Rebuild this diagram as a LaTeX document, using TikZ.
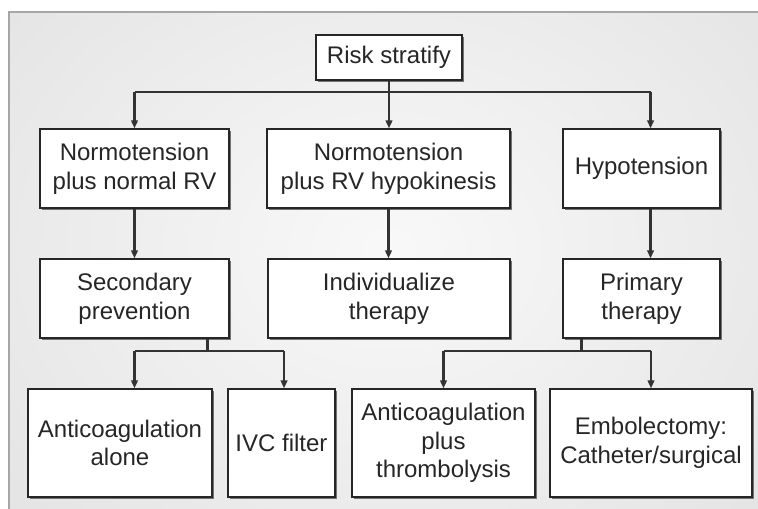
\documentclass[tikz,border=0pt]{standalone}
\usepackage{fontspec}
\setmainfont{Liberation Sans}
\usetikzlibrary{arrows.meta,shadows}
\begin{document}
\begin{tikzpicture}[x=0.75pt,y=-0.75pt,line join=miter,
	>={Triangle[length=6pt,width=5pt]},
	box/.style={draw=black!85,line width=1pt,fill=white,align=center,inner sep=0pt,
		text=black!85,font=\fontsize{18}{21.5}\selectfont,
		drop shadow={shadow xshift=1.4pt,shadow yshift=-1.4pt,fill=black!55,opacity=1}},
	boxsize/.style 2 args={minimum width=#1*0.75pt,minimum height=#2*0.75pt},
	link/.style={draw=black!80,line width=1.8pt}]
	\useasboundingbox (0,0) rectangle (758,509);
	% background frame
	\begin{scope}
		\clip (9,12) rectangle (770,520);
		\shade[inner color=gray!5,outer color=gray!26] (-271,-270) rectangle (1049,770);
	\end{scope}
	\draw[gray!70,line width=0.8pt] (9,520) -- (9,12) -- (770,12);
	% boxes
	\node[box,boxsize={146}{45}] (risk) at (389,57.5) {Risk stratify};
	\node[box,boxsize={189}{79}] (normal) at (134.5,168.5) {Normotension\\plus normal RV};
	\node[box,boxsize={243}{79}] (hypok) at (388.5,168.5) {Normotension\\plus RV hypokinesis};
	\node[box,boxsize={157}{79}] (hypo) at (641.5,168.5) {Hypotension};
	\node[box,boxsize={189}{79}] (second) at (134.5,298.5) {Secondary\\prevention};
	\node[box,boxsize={242}{79}] (indiv) at (389,298.5) {Individualize\\therapy};
	\node[box,boxsize={157}{79}] (primary) at (641.5,298.5) {Primary\\therapy};
	\node[box,boxsize={184}{108}] (alone) at (120,443) {Anticoagulation\\alone};
	\node[box,boxsize={107}{108}] (ivc) at (281.5,443) {IVC filter};
	\node[box,boxsize={183}{108}] (thromb) at (443.5,443) {Anticoagulation\\plus\\thrombolysis};
	\node[box,boxsize={202}{108}] (embol) at (651,443) {Embolectomy:\\Catheter/surgical};
	\coordinate (top) at (0,92);
	\coordinate (low) at (0,351);
	% first split
	\draw[link] (normal.north |- top) -- ([xshift=6.8pt]hypo.north |- top);
	\draw[link,->] (normal.north |- top) -- (normal.north);
	\draw[link,->] ([xshift=6.8pt]hypo.north |- top) -- ([xshift=6.8pt]hypo.north);
	\draw[link,->] (risk.south) -- (risk.south |- hypok.north);
	% second row
	\draw[link,->] (normal.south) -- (second.north);
	\draw[link,->] (hypok.south) -- (hypok.south |- indiv.north);
	\draw[link,->] ([xshift=6.8pt]hypo.south) -- ([xshift=6.8pt]primary.north);
	% secondary prevention
	\draw[link] ([xshift=-16.5pt]second.south east) -- ([xshift=-16.5pt]second.south east |- low);
	\draw[link] (second.south |- low) -- ([xshift=1.9pt]ivc.north |- low);
	\draw[link,->] (second.south |- low) -- (second.south |- alone.north);
	\draw[link,->] ([xshift=1.9pt]ivc.north |- low) -- ([xshift=1.9pt]ivc.north);
	% primary therapy
	\draw[link] ([xshift=14.25pt]primary.south west) -- ([xshift=14.25pt]primary.south west |- low);
	\draw[link] (thromb.north |- low) -- (embol.north |- low);
	\draw[link,->] (thromb.north |- low) -- (thromb.north);
	\draw[link,->] (embol.north |- low) -- (embol.north);
\end{tikzpicture}
\end{document}
